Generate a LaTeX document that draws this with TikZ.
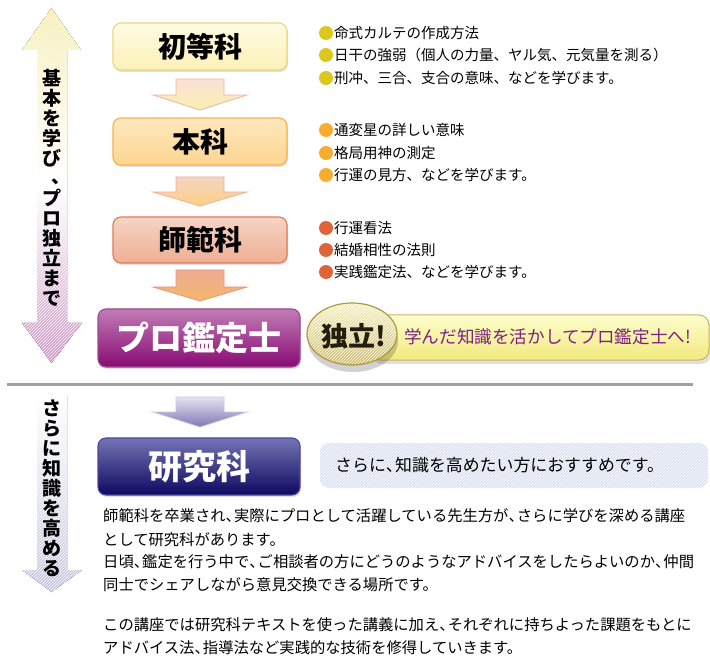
\documentclass[tikz,border=0pt]{standalone}
\usepackage{fontspec}
\newfontfamily\jp{Noto Sans CJK JP}
\usetikzlibrary{patterns,shadows}
\definecolor{ylwA}{HTML}{FFFBE2}
\definecolor{ylwB}{HTML}{F6E88E}
\definecolor{ylwC}{HTML}{FBF1B8}
\definecolor{ylwD}{HTML}{EED77A}
\definecolor{orgA}{HTML}{FEE8BE}
\definecolor{orgB}{HTML}{FBC463}
\definecolor{orgC}{HTML}{FDD590}
\definecolor{orgD}{HTML}{F7B24C}
\definecolor{salA}{HTML}{F6D4C4}
\definecolor{salB}{HTML}{E8967A}
\definecolor{salC}{HTML}{EEAE94}
\definecolor{salD}{HTML}{DF7A5A}
\definecolor{purA}{HTML}{C27CB6}
\definecolor{purB}{HTML}{A02E8C}
\definecolor{purC}{HTML}{880A72}
\definecolor{purD}{HTML}{9C4A90}
\definecolor{navA}{HTML}{7474B4}
\definecolor{navB}{HTML}{2E2880}
\definecolor{navC}{HTML}{0E0860}
\definecolor{navD}{HTML}{4A48A0}
\definecolor{bulY}{HTML}{DCC81C}
\definecolor{bulO}{HTML}{F8AC30}
\definecolor{bulR}{HTML}{E0643A}
\definecolor{goldA}{HTML}{F6F0BC}
\definecolor{goldB}{HTML}{CDB868}
\definecolor{goldD}{HTML}{B09A48}
\definecolor{banA}{HTML}{FDFDCC}
\definecolor{banB}{HTML}{F2EA7E}
\definecolor{banD}{HTML}{C8B468}
\definecolor{banT}{HTML}{7C2282}
\definecolor{infoBg}{HTML}{DCE1F2}
\definecolor{sepGray}{HTML}{A0A0A0}
\newcommand\downblock[7]{%
  \draw[draw=#7, line width=0.8pt, top color=#5, bottom color=#6]
    (#1-24,#2) -- (#1+24,#2) -- (#1+24,#3) -- (#1+47,#3) -- (#1,#4)
    -- (#1-47,#3) -- (#1-24,#3) -- cycle;}
\newcommand\vtick{\makebox[1em][l]{\hspace{0.5em}\raisebox{0.12em}{、}}}
\newcommand\nten{\makebox[0.55em][l]{、}}
\begin{document}
\begin{tikzpicture}[x=1pt,y=-1pt,
  titlebox/.style={rounded corners=8pt, line width=1.1pt, inner sep=0pt,
    drop shadow={shadow xshift=1pt, shadow yshift=-2pt, opacity=0.25},
    font=\jp\bfseries\fontsize{28}{28}\selectfont},
  bigbox/.style={titlebox, minimum width=202pt, text=white},
  vtext/.style={font=\jp\bfseries\fontsize{19}{20}\selectfont, align=center, inner sep=0pt},
  bullettext/.style={font=\jp\fontsize{14.5}{14.5}\selectfont, anchor=west, inner sep=0pt},
  bodytext/.style={font=\jp\fontsize{15.3}{15.3}\selectfont, anchor=west, inner sep=0pt},
  bul/.style={circle, inner sep=0pt, minimum size=14pt}]
\useasboundingbox[fill=white] (0,0) rectangle (710,671);

% ---------- left arrows ----------
\fill[top color=ylwB!80!white, bottom color=purA!85!white, middle color=white]
  (51.5,8) -- (81,50) -- (67,50) -- (67,323) -- (82,323) -- (51.5,363)
  -- (22,323) -- (37,323) -- (37,50) -- (22,50) -- cycle;
\fill[pattern=north east lines, pattern color=white]
  (51.5,8) -- (81,50) -- (67,50) -- (67,323) -- (82,323) -- (51.5,363)
  -- (22,323) -- (37,323) -- (37,50) -- (22,50) -- cycle;
\node[vtext] (v1) at (51.5,188) {基\\本\\を\\学\\び\\\vtick\\プ\\ロ\\独\\立\\ま\\で};

\fill[top color=white, bottom color=navA!45!white]
  (37,395) -- (67,395) -- (67,570) -- (82,570) -- (51.5,592) -- (22,570)
  -- (37,570) -- cycle;
\fill[pattern=north east lines, pattern color=white]
  (37,395) -- (67,395) -- (67,570) -- (82,570) -- (51.5,592) -- (22,570)
  -- (37,570) -- cycle;
\node[vtext] (v2) at (51.5,488) {さ\\ら\\に\\知\\識\\を\\高\\め\\る};

% ---------- step boxes ----------
\node[titlebox, draw=ylwD, top color=ylwA, middle color=ylwB, bottom color=ylwC,
  minimum width=174pt, minimum height=47pt] (b1) at (200,46.5) {初等科};
\node[titlebox, draw=orgD, top color=orgA, middle color=orgB, bottom color=orgC,
  minimum width=174pt, minimum height=47pt] (b2) at (200,141.5) {本科};
\node[titlebox, draw=salD, top color=salA, middle color=salB, bottom color=salC,
  minimum width=174pt, minimum height=46pt] (b3) at (200,240) {師範科};
\node[bigbox, draw=purD, top color=purA, middle color=purB, bottom color=purC,
  minimum height=58pt, font=\jp\bfseries\fontsize{33}{33}\selectfont] (b4) at (199,338) {プロ鑑定士};
\node[bigbox, draw=navD, top color=navA, middle color=navB, bottom color=navC,
  minimum height=57pt, font=\jp\bfseries\fontsize{34}{34}\selectfont] (b5) at (199,466.5) {研究科};

% ---------- block arrows between boxes ----------
\downblock{200}{79}{95}{110}{salA!70!white}{ylwB!70!white}{salB!70!white}
\downblock{200}{177}{192}{206}{salA}{orgB!80!white}{salB!75!white}
\downblock{200}{270}{287}{301}{salB!80!white}{orgB!70!salB}{salB}
\downblock{200}{397}{412}{427}{navA!20!white}{navA!80!purA}{navA!40!white}

% ---------- bullet lists ----------
\foreach \yy/\tt [count=\i] in {33/命式カルテの作成方法,
    55/日干の強弱（個人の力量、ヤル気、元気量を測る）,
    78/刑冲、三合、支合の意味、などを学びます。}{
  \node[bul, fill=bulY] (y\i) at (326,\yy) {};
  \node[bullettext] (yt\i) at (334,\yy) {\tt};}
\foreach \yy/\tt [count=\i] in {130/通変星の詳しい意味,
    153/格局用神の測定,
    175/行運の見方、などを学びます。}{
  \node[bul, fill=bulO] (o\i) at (326,\yy) {};
  \node[bullettext] (ot\i) at (334,\yy) {\tt};}
\foreach \yy/\tt [count=\i] in {228/行運看法,
    250/結婚相性の法則,
    272/実践鑑定法、などを学びます。}{
  \node[bul, fill=bulR] (r\i) at (326,\yy) {};
  \node[bullettext] (rt\i) at (334,\yy) {\tt};}

% ---------- independence banner ----------
\fill[black, opacity=0.12, rounded corners=10pt] (372,318) rectangle (711,364);
\draw[banD, line width=1pt, rounded corners=10pt, top color=banA, bottom color=banB]
  (370,315) rectangle (709,360);
\node[bullettext, text=banT, font=\jp\fontsize{17.6}{17.6}\selectfont] (ban) at (404,337)
  {学んだ知識を活かしてプロ鑑定士へ!};
\fill[black, opacity=0.18] (353,341) ellipse (45 and 31);
\draw[goldD, line width=1.2pt, top color=goldA, bottom color=goldB] (352,334) ellipse (45 and 31);
\fill[pattern=north east lines, pattern color=white] (352,334) ellipse (44 and 30);
\node[font=\jp\bfseries\fontsize{27}{27}\selectfont, text=black!80!goldD, inner sep=0pt] (ind) at (354,336) {独立!};

% ---------- separator ----------
\draw[sepGray, line width=2.5pt] (7,384.5) -- (693,384.5);

% ---------- info box ----------
\fill[infoBg, rounded corners=9pt] (320,443) rectangle (708,488);
\fill[pattern=north east lines, pattern color=white, rounded corners=9pt] (320,443) rectangle (708,488);
\node[bodytext, font=\jp\fontsize{16.9}{16.9}\selectfont] (info) at (335,465.5) {さらに\nten 知識を高めたい方におすすめです。};

% ---------- body text ----------
\node[bodytext] (l1) at (103,515.5) {師範科を卒業され\nten 実際にプロとして活躍している先生方が\nten さらに学びを深める講座};
\node[bodytext] (l2) at (103,539.5) {として研究科があります。};
\node[bodytext] (l3) at (103,562) {日頃\nten 鑑定を行う中で\nten ご相談者の方にどうのようなアドバイスをしたらよいのか\nten 仲間};
\node[bodytext] (l4) at (103,585) {同士でシェアしながら意見交換できる場所です。};
\node[bodytext] (l5) at (103,625) {この講座では研究科テキストを使った講義に加え\nten それぞれに持ちよった課題をもとに};
\node[bodytext] (l6) at (103,648) {アドバイス法\nten 指導法など実践的な技術を修得していきます。};
\end{tikzpicture}
\end{document}
